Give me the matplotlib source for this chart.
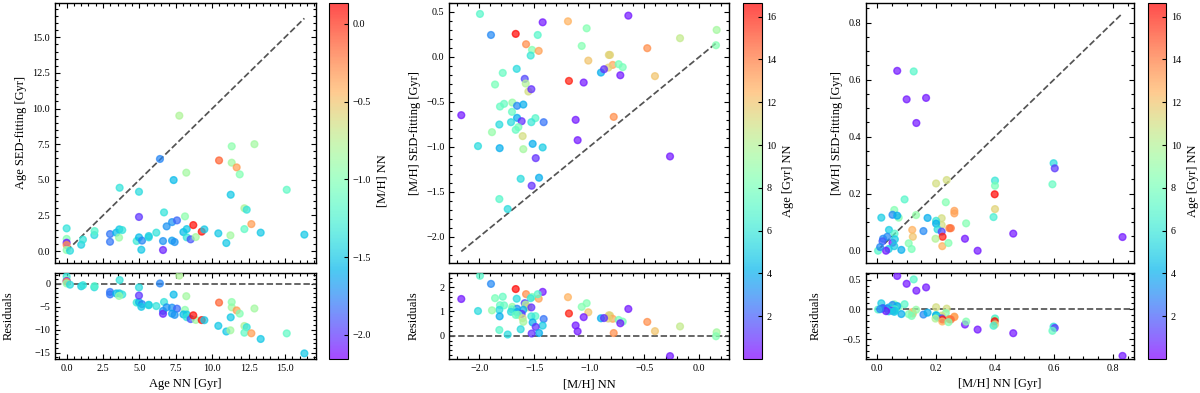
import numpy as np
import matplotlib
matplotlib.use("Agg")
import matplotlib.pyplot as plt
from matplotlib.ticker import AutoMinorLocator

plt.rcParams['font.family'] = ['Liberation Serif', 'DejaVu Serif']
plt.rcParams['mathtext.fontset'] = 'stix'

# ---------------- Panel 1: Age NN vs Age SED, colour [M/H] NN ----------------
age_nn_1 = [0.0, 0.0, 0.0, 0.0, 0.0, 0.23, 1.0, 1.12, 1.9, 1.92, 2.98, 2.98, 3.41, 3.62,
            3.82, 3.6, 3.64, 4.81, 4.97, 5.18, 5.13, 4.97, 4.97, 5.64, 5.64, 6.16, 6.41,
            6.62, 6.62, 6.69, 6.87, 7.24, 7.58, 7.24, 7.42, 7.35, 7.74, 8.13, 8.22, 8.02,
            8.25, 8.25, 8.52, 8.87, 8.7, 9.28, 9.46, 10.42, 10.47, 10.97, 11.25, 11.27,
            11.34, 11.34, 11.68, 11.89, 12.21, 12.37, 12.21, 12.69, 12.9, 13.33, 15.12, 16.33]
age_sed_1 = [1.59, 0.85, 0.58, 0.42, 0.07, 0.02, 0.44, 0.8, 1.12, 1.4, 1.19, 0.65, 1.29, 1.52,
             1.47, 0.94, 4.44, 0.7, 0.96, 0.73, 0.09, 4.16, 2.39, 0.96, 1.05, 1.29, 6.46,
             0.7, 0.07, 2.71, 1.73, 2.03, 2.15, 0.73, 0.63, 4.98, 9.5, 2.43, 5.5, 1.33,
             1.54, 0.96, 0.82, 0.98, 1.82, 1.36, 1.52, 1.24, 6.36, 0.56, 1.1, 3.95,
             6.2, 7.35, 5.87, 5.38, 3.0, 2.9, 1.54, 1.89, 7.5, 1.29, 4.3, 1.15]
mh_nn_1 = [-1.35, -1.0, -2.1, -0.3, -0.95, -1.4, -1.45, -1.35, -1.4, -1.2, -1.8, -1.8, -1.55, -1.5,
           -1.35, -0.9, -1.35, -1.3, -1.55, -1.75, -1.5, -1.4, -2.0, -1.4, -1.45, -1.35, -1.75,
           -1.7, -2.05, -1.35, -1.7, -1.7, -1.85, -1.65, -1.7, -1.55, -0.8, -0.95, -0.85, -1.55,
           -1.5, -1.35, -1.9, -0.85, 0.1, 0.08, -1.5, -1.5, -0.15, -1.5, -0.85, -1.5,
           -0.85, -0.95, -0.35, -1.0, -0.8, -1.35, -1.15, -0.35, -0.85, -1.5, -1.15, -1.5]

# ---------------- Panel 2: [M/H] NN vs [M/H] SED, colour Age NN ----------------
mh_nn_2 = [-1.994, -1.894, -1.669, -1.424, -1.194, -1.024, -0.645, 0.158, 0.152, -0.175,
           -0.473, -0.403, -1.069, -1.009, -0.822, -0.812, -0.787, -0.827, -0.733, -0.696,
           -0.894, -0.866, -0.718, -1.185, -1.051, -1.575, -1.521, -1.46, -1.469, -1.533,
           -1.787, -1.66, -1.857, -1.587, -1.578, -1.554, -1.527, -2.164, -1.812, -1.775,
           -1.7, -1.657, -1.6, -1.703, -1.657, -1.712, -1.818, -1.615, -1.49, -1.527,
           -1.415, -1.645, -1.669, -1.885, -2.012, -1.815, -1.606, -1.6, -1.515, -1.424,
           -1.487, -1.124, -1.106, -0.778, -0.266, -1.624, -1.457, -1.524, -1.818, -1.742]
mh_sed_2 = [0.478, 0.244, 0.256, 0.385, 0.396, 0.318, 0.459, 0.30, 0.13, 0.208,
            0.097, -0.214, 0.122, -0.041, 0.022, 0.022, -0.089, -0.119, -0.081, -0.114,
            -0.174, -0.137, -0.204, -0.267, -0.285, 0.141, 0.078, 0.067, 0.244, 0.015,
            -0.178, -0.133, -0.307, -0.244, -0.296, -0.385, -0.359, -0.648, -0.552, -0.522,
            -0.508, -0.544, -0.53, -0.611, -0.678, -0.726, -0.752, -0.715, -0.681, -0.726,
            -0.726, -0.781, -0.811, -0.837, -0.992, -1.015, -0.881, -1.026, -0.967, -1.007,
            -1.126, -0.70, -0.926, -0.667, -1.107, -1.356, -1.344, -1.433, -1.581, -1.692]
age_nn_2 = [7.0, 3.0, 16.5, 0.5, 12.5, 8.5, 0.5, 9.5, 8.5, 10.5,
            13.5, 12.0, 8.5, 12.0, 11.5, 11.5, 12.8, 11.5, 8.0, 8.0,
            4.0, 1.0, 0.5, 16.0, 0.5, 13.5, 8.5, 13.0, 7.0, 6.0,
            7.5, 5.5, 8.0, 1.5, 10.0, 11.0, 1.0, 0.5, 7.5, 7.5,
            9.0, 3.0, 4.0, 7.5, 4.0, 5.5, 5.5, 1.0, 7.0, 6.0,
            2.5, 8.0, 7.5, 9.0, 5.5, 4.0, 11.0, 9.5, 4.0, 5.0,
            1.0, 0.5, 0.5, 13.5, 0.5, 5.5, 4.0, 1.0, 7.0, 5.5]

# ---------------- Panel 3: NN vs SED-fitting, colour Age NN ----------------
x_nn_3 = [0.068, 0.124, 0.100, 0.166, 0.133, 0.599, 0.603, 0.595, 0.400, 0.400,
          0.399, 0.400, 0.395, 0.462, 0.833, 0.341, 0.298, 0.302, 0.200, 0.236,
          0.233, 0.262, 0.262, 0.245, 0.250, 0.219, 0.219, 0.200, 0.200, 0.205,
          0.219, 0.222, 0.198, 0.221, 0.242, 0.157, 0.171, 0.119, 0.121, 0.107,
          0.117, 0.132, 0.093, 0.058, 0.073, 0.052, 0.068, 0.014, 0.082, 0.040,
          0.059, 0.034, 0.020, 0.018, 0.052, 0.060, 0.058, 0.039, 0.003, 0.030, 0.010]
y_sed_3 = [0.631, 0.629, 0.531, 0.536, 0.448, 0.307, 0.289, 0.233, 0.246, 0.228,
           0.198, 0.146, 0.118, 0.060, 0.048, 0.000, 0.042, 0.096, 0.236, 0.248,
           0.170, 0.140, 0.131, 0.079, 0.079, 0.114, 0.090, 0.105, 0.095, 0.075,
           0.067, 0.049, 0.042, 0.016, 0.027, 0.069, 0.115, 0.073, 0.049, 0.026,
           0.006, 0.125, 0.180, 0.143, 0.116, 0.126, 0.123, 0.116, 0.003, 0.073,
           0.060, 0.049, 0.042, 0.033, 0.028, 0.040, 0.016, 0.006, 0.000, 0.000, 0.013]
age_nn_3 = [0.5, 7.0, 0.5, 0.5, 0.5, 5.5, 1.2, 7.5, 6.0, 8.0,
            16.5, 11.5, 6.5, 0.5, 0.5, 0.5, 0.5, 8.5, 11.0, 11.0,
            8.5, 13.0, 13.0, 14.0, 14.2, 11.0, 11.0, 6.0, 4.0, 5.5,
            1.5, 16.0, 10.0, 12.5, 8.5, 3.0, 4.0, 12.5, 12.0, 8.5,
            8.0, 9.0, 7.0, 8.5, 8.5, 3.0, 4.0, 5.0, 4.0, 5.0,
            7.0, 3.0, 3.0, 2.0, 0.5, 5.0, 5.0, 5.0, 7.0, 0.5, 3.0]

W, H = 1200, 393
fig = plt.figure(figsize=(W / 100, H / 100), dpi=100)


def ax_px(l, r, t, b):
    return fig.add_axes([l / W, 1 - b / H, (r - l) / W, (b - t) / H])


TICK = 7.3
LAB = 9.0


def style(ax):
    ax.xaxis.set_minor_locator(AutoMinorLocator())
    ax.yaxis.set_minor_locator(AutoMinorLocator())
    ax.tick_params(which='both', direction='in', top=True, right=True, labelsize=TICK, width=0.8)
    ax.tick_params(which='major', length=3.5)
    ax.tick_params(which='minor', length=2.0)
    for s in ax.spines.values():
        s.set_linewidth(1.0)


def panel(x, y, c, left, right, cb_left, vmin, vmax, xlim, ylim, rlim,
          xlabel, ylabel, cblabel, cbticks, rpad):
    x = np.asarray(x); y = np.asarray(y); c = np.asarray(c)
    top, mid_b, res_t, bot = 2.7, 262.7, 272.7, 359.0
    ax = ax_px(left, right, top, mid_b)
    axr = ax_px(left, right, res_t, bot)
    sc = ax.scatter(x, y, c=c, cmap='rainbow', vmin=vmin, vmax=vmax, s=24,
                    alpha=0.7, linewidths=1.0, zorder=3)
    lo, hi = x.min(), x.max()
    ax.plot([lo, hi], [lo, hi], ls='--', color='0.33', lw=1.25, zorder=2)
    ax.set_xlim(xlim); ax.set_ylim(ylim)
    ax.set_ylabel(ylabel, fontsize=LAB)
    ax.tick_params(labelbottom=False)
    axr.scatter(x, y - x, c=c, cmap='rainbow', vmin=vmin, vmax=vmax, s=24,
                alpha=0.7, linewidths=1.0, zorder=3)
    axr.axhline(0, ls='--', color='0.33', lw=1.25, zorder=2)
    axr.set_xlim(xlim); axr.set_ylim(rlim)
    axr.set_xlabel(xlabel, fontsize=LAB)
    axr.set_ylabel('Residuals', fontsize=LAB, labelpad=rpad)
    style(ax); style(axr)
    cax = ax_px(cb_left, cb_left + 18.4, top, bot)
    cb = fig.colorbar(sc, cax=cax)
    cb.set_ticks(cbticks)
    cb.set_label(cblabel, fontsize=LAB)
    cax.tick_params(labelsize=TICK, direction='in', length=3, width=0.8)
    cb.outline.set_linewidth(0.8)
    return ax, axr


panel(age_nn_1, age_sed_1, mh_nn_1, 55, 316, 329.3, -2.156, 0.137,
      (-0.80, 17.13), (-0.82, 17.43), (-16.4, 2.4),
      'Age NN [Gyr]', 'Age SED-fitting [Gyr]', '[M/H] NN',
      [-2.0, -1.5, -1.0, -0.5, 0.0], 14)

panel(mh_nn_2, mh_sed_2, age_nn_2, 449.3, 729.3, 743.3, 0.0, 16.65,
      (-2.273, 0.273), (-2.289, 0.603), (-0.96, 2.60),
      '[M/H] NN', '[M/H] SED-fitting [Gyr]', 'Age [Gyr] NN',
      [2, 4, 6, 8, 10, 12, 14, 16], 14)

panel(x_nn_3, y_sed_3, age_nn_3, 866, 1134.3, 1147.7, 0.0, 16.65,
      (-0.038, 0.873), (-0.042, 0.870), (-0.837, 0.618),
      '[M/H] NN [Gyr]', '[M/H] SED-fitting [Gyr]', 'Age [Gyr] NN',
      [2, 4, 6, 8, 10, 12, 14, 16], 15)

fig.savefig('out.png', dpi=100)
